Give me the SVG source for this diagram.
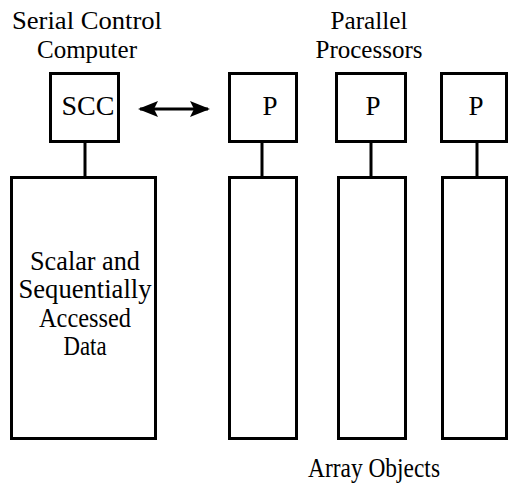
<svg xmlns="http://www.w3.org/2000/svg" width="510" height="486" viewBox="0 0 510 486">
  <style>
    .box { fill: #fff; stroke: #000; stroke-width: 3; }
    .line { stroke: #000; stroke-width: 3; fill: none; }
    text { font-family: "Liberation Serif", "Times New Roman", serif; font-size: 27px; fill: #000; text-anchor: middle; }
    .hdr { font-size: 26px; }
  </style>
  <defs>
    <marker id="ah" viewBox="0 0 20 16" refX="18" refY="8" markerWidth="20" markerHeight="16" markerUnits="userSpaceOnUse" orient="auto-start-reverse">
      <path d="M0,0 L20,8 L0,16 L4,8 Z" fill="#000"/>
    </marker>
  </defs>

  <g id="connectors">
    <line class="line" x1="85" y1="142" x2="85" y2="177"/>
    <line class="line" x1="262" y1="142" x2="262" y2="177"/>
    <line class="line" x1="371" y1="142" x2="371" y2="177"/>
    <line class="line" x1="477" y1="142" x2="477" y2="177"/>
    <line class="line" x1="140" y1="109" x2="208" y2="109" marker-start="url(#ah)" marker-end="url(#ah)"/>
  </g>

  <g id="label-scc">
    <text class="hdr" x="87" y="29" textLength="150" lengthAdjust="spacingAndGlyphs">Serial Control</text>
    <text class="hdr" x="87" y="58" textLength="100" lengthAdjust="spacingAndGlyphs">Computer</text>
  </g>
  <g id="label-pp">
    <text class="hdr" x="369" y="29" textLength="77" lengthAdjust="spacingAndGlyphs">Parallel</text>
    <text class="hdr" x="369" y="58" textLength="107" lengthAdjust="spacingAndGlyphs">Processors</text>
  </g>

  <g id="scc">
    <rect class="box" x="50.5" y="73.5" width="68" height="68"/>
    <text x="88" y="115" textLength="53" lengthAdjust="spacingAndGlyphs">SCC</text>
  </g>
  <g id="p1">
    <rect class="box" x="229.5" y="73.5" width="67" height="68"/>
    <text x="270" y="115">P</text>
  </g>
  <g id="p2">
    <rect class="box" x="336.5" y="73.5" width="69" height="68"/>
    <text x="373" y="115">P</text>
  </g>
  <g id="p3">
    <rect class="box" x="441.5" y="73.5" width="65" height="68"/>
    <text x="476" y="115">P</text>
  </g>

  <g id="scalar-data">
    <rect class="box" x="11.5" y="177.5" width="144" height="261"/>
    <text x="85" y="270" textLength="110" lengthAdjust="spacingAndGlyphs">Scalar and</text>
    <text x="85" y="298" textLength="133" lengthAdjust="spacingAndGlyphs">Sequentially</text>
    <text x="85" y="327" textLength="92" lengthAdjust="spacingAndGlyphs">Accessed</text>
    <text x="85" y="355" textLength="43" lengthAdjust="spacingAndGlyphs">Data</text>
  </g>
  <g id="array1">
    <rect class="box" x="229.5" y="177.5" width="67" height="261"/>
  </g>
  <g id="array2">
    <rect class="box" x="338.5" y="177.5" width="67" height="261"/>
  </g>
  <g id="array3">
    <rect class="box" x="442.5" y="177.5" width="64" height="261"/>
  </g>

  <g id="label-array">
    <text x="374" y="477" textLength="132" lengthAdjust="spacingAndGlyphs">Array Objects</text>
  </g>
</svg>
